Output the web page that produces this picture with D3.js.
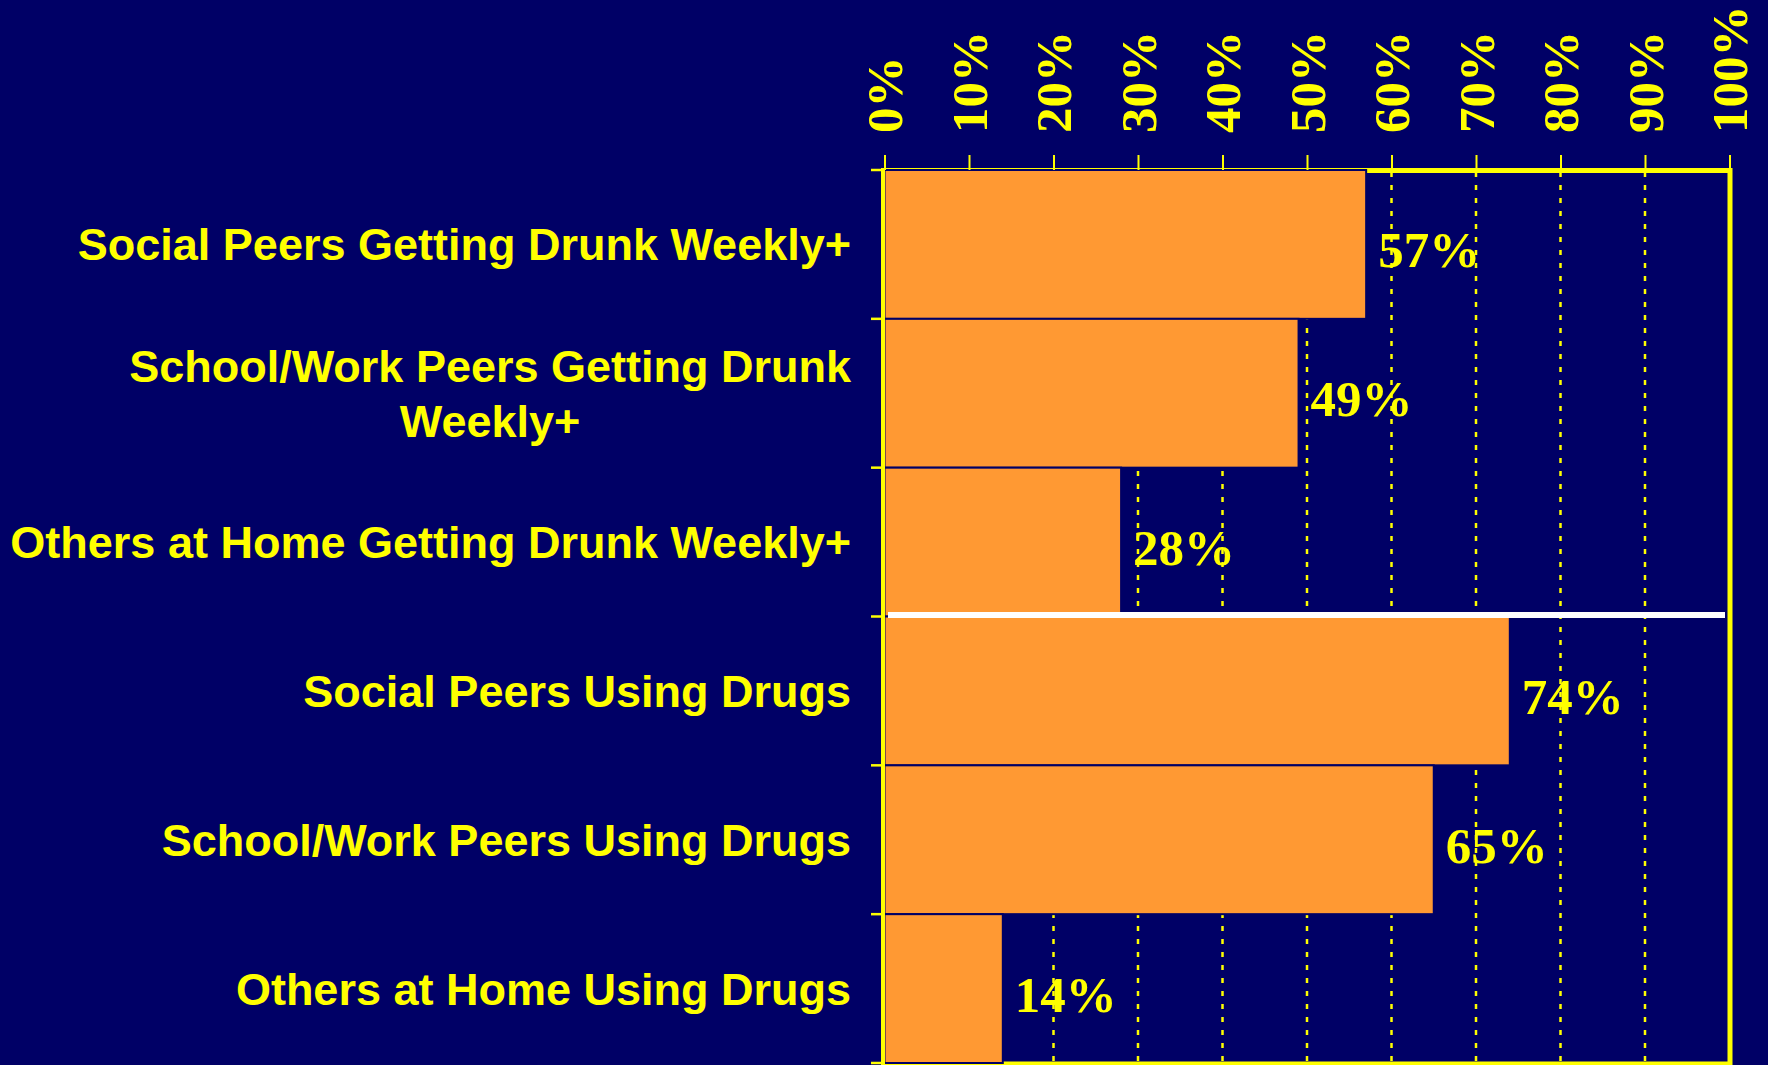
<!DOCTYPE html>
<html>
<head>
<meta charset="utf-8">
<script src="https://cdn.jsdelivr.net/npm/d3@7/dist/d3.min.js"></script>
<style>
  html, body { margin: 0; padding: 0; background: #000066; }
  svg { display: block; }
</style>
</head>
<body>
<svg id="chart" width="1768" height="1065"></svg>
<script>
// Share of respondents reporting each kind of exposure
const categories = [
  "Social Peers Getting Drunk Weekly+",
  "School/Work Peers Getting Drunk Weekly+",
  "Others at Home Getting Drunk Weekly+",
  "Social Peers Using Drugs",
  "School/Work Peers Using Drugs",
  "Others at Home Using Drugs"
];
const values = [0.57, 0.49, 0.28, 0.74, 0.65, 0.14];
const tickValues = [0, 0.1, 0.2, 0.3, 0.4, 0.5, 0.6, 0.7, 0.8, 0.9, 1.0];

const NAVY = "#000066", YELLOW = "#FFFF00", ORANGE = "#FF9933";

const svg = d3.select("#chart");
svg.append("rect").attr("width", 1768).attr("height", 1065).attr("fill", NAVY);

const x = d3.scaleLinear().domain([0, 1]).range([884.5, 1729.5]);
const y = d3.scaleBand().domain(categories).range([170, 1063]).padding(0);

// dotted vertical gridlines
svg.append("g")
  .selectAll("line")
  .data(tickValues.filter(t => t > 0 && t < 1))
  .join("line")
  .attr("x1", d => x(d)).attr("x2", d => x(d))
  .attr("y1", 172).attr("y2", 1063)
  .attr("stroke", YELLOW).attr("stroke-width", 2.5)
  .attr("stroke-dasharray", "5,8");

// plot frame (top, right, bottom)
svg.append("path")
  .attr("d", `M${x(0)},170.5 H1730 V1064 H${x(0)}`)
  .attr("fill", "none")
  .attr("stroke", YELLOW).attr("stroke-width", 5);

// bars
svg.append("g")
  .selectAll("rect")
  .data(categories)
  .join("rect")
  .attr("x", x(0))
  .attr("y", d => y(d))
  .attr("width", (d, i) => x(values[i]) - x(0))
  .attr("height", y.bandwidth())
  .attr("fill", ORANGE)
  .attr("stroke", NAVY).attr("stroke-width", 2);

// white separator between the drinking and drug groups
svg.append("line")
  .attr("x1", 888).attr("x2", 1725)
  .attr("y1", y(categories[3]) - 1.5).attr("y2", y(categories[3]) - 1.5)
  .attr("stroke", "#FFFFFF").attr("stroke-width", 6);

// left axis line with category boundary ticks
svg.append("line")
  .attr("x1", 883).attr("x2", 883)
  .attr("y1", 168).attr("y2", 1065)
  .attr("stroke", YELLOW).attr("stroke-width", 4);
const bounds = categories.map(c => y(c)).concat([y(categories[categories.length - 1]) + y.bandwidth()]);
svg.append("g")
  .selectAll("line")
  .data(bounds)
  .join("line")
  .attr("x1", 871).attr("x2", 884)
  .attr("y1", d => d).attr("y2", d => d)
  .attr("stroke", YELLOW).attr("stroke-width", 2.5);

// top axis: ticks and rotated percentage labels
const axis = svg.append("g")
  .attr("transform", "translate(0,170)")
  .call(d3.axisTop(x).tickValues(tickValues).tickSize(15).tickFormat(d3.format(".0%")));
axis.select(".domain").remove();
axis.selectAll(".tick line").attr("stroke", YELLOW).attr("stroke-width", 2);
axis.selectAll(".tick text")
  .attr("fill", YELLOW)
  .attr("font-family", "'Liberation Serif', 'Times New Roman', serif")
  .attr("font-weight", "bold")
  .attr("font-size", 51)
  .attr("text-anchor", "start")
  .attr("x", 0).attr("y", 0)
  .attr("dy", "0.34em")
  .attr("transform", "translate(0,-37) rotate(-90)");

// category labels, right aligned, wrapped lines centred within the block
const labelRight = 851;
const lineHeight = 55;
const labels = svg.append("g")
  .attr("font-family", "'Liberation Sans', Arial, sans-serif")
  .attr("font-weight", "bold")
  .attr("font-size", 45)
  .attr("fill", YELLOW);

function wrapWords(text, maxWidth) {
  const probe = labels.append("text").attr("visibility", "hidden");
  const words = text.split(" ");
  const lines = [];
  let current = "";
  for (const w of words) {
    const trial = current ? current + " " + w : w;
    probe.text(trial);
    if (probe.node().getComputedTextLength() > maxWidth && current) {
      lines.push(current);
      current = w;
    } else {
      current = trial;
    }
  }
  if (current) lines.push(current);
  probe.remove();
  return lines;
}

categories.forEach(c => {
  const lines = wrapWords(c, 860);
  const t = labels.append("text");
  lines.forEach(ln => t.append("tspan").text(ln));
  const widths = [];
  t.selectAll("tspan").each(function () { widths.push(this.getComputedTextLength()); });
  const blockW = d3.max(widths);
  const cx = labelRight - blockW / 2;
  const mid = y(c) + y.bandwidth() / 2;
  const firstBase = mid + 16 - (lines.length - 1) * lineHeight / 2;
  t.selectAll("tspan")
    .attr("text-anchor", "middle")
    .attr("x", cx)
    .attr("y", (d, i) => firstBase + i * lineHeight);
});

// value labels at the end of each bar
svg.append("g")
  .selectAll("text")
  .data(categories)
  .join("text")
  .attr("x", (d, i) => x(values[i]) + 12)
  .attr("y", d => y(d) + y.bandwidth() / 2 + 23)
  .attr("fill", YELLOW)
  .attr("font-family", "'Liberation Serif', 'Times New Roman', serif")
  .attr("font-weight", "bold")
  .attr("font-size", 51)
  .text((d, i) => d3.format(".0%")(values[i]));
</script>
</body>
</html>
